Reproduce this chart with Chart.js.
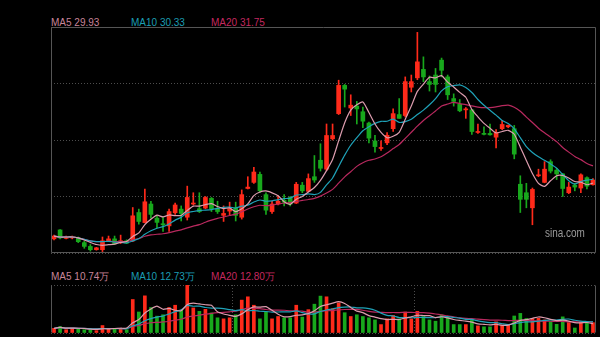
<!DOCTYPE html>
<html>
<head>
<meta charset="utf-8">
<title>日K线</title>
<script src="https://cdn.jsdelivr.net/npm/chart.js@4.4.1/dist/chart.umd.min.js"></script>
<style>
  html, body { margin: 0; padding: 0; background: #000; }
  #wrap { position: relative; width: 600px; height: 337px; overflow: hidden; font-family: "Liberation Sans", Arial, sans-serif; }
  .pane { position: absolute; }
  .ma { position: absolute; font-size: 10px; line-height: 10px; white-space: nowrap; }
  #logo { position: absolute; left: 545px; top: 227px; font-size: 12px; line-height: 12px; color: #9a9a9a; transform: scaleX(0.83); transform-origin: left top; }
</style>
</head>
<body>
<div id="wrap">
  <div class="ma" id="ma5" style="left:51px; top:18px;"></div>
  <div class="ma" id="ma10" style="left:131px; top:18px;"></div>
  <div class="ma" id="ma20" style="left:211px; top:18px;"></div>
  <div class="pane" style="left:50px; top:26px;"><canvas id="kline" width="547" height="228"></canvas></div>
  <div id="logo">sina.com</div>
  <div class="ma" id="vma5" style="left:51px; top:272px;"></div>
  <div class="ma" id="vma10" style="left:131px; top:272px;"></div>
  <div class="ma" id="vma20" style="left:211px; top:272px;"></div>
  <div class="pane" style="left:50px; top:284px;"><canvas id="volume" width="547" height="50"></canvas></div>
</div>
<script>
// daily prices
const opens = [
  24.0, 24.95, 24.05, 24.1, 24.1, 23.6, 23.2, 22.85, 22.85, 23.75,
  24.0, 23.6, 23.8, 23.78, 26.8, 25.73, 27.7, 26.2, 25.6, 25.38,
  26.77, 27.16, 26.3, 27.7, 27.2, 27.27, 28.3, 27.2, 26.5, 26.95,
  27.3, 26.3, 29.35, 30.0, 30.85, 28.7, 26.9, 27.7, 28.1, 28.4,
  27.8, 29.7, 29.05, 30.6, 32.35, 31.4, 34.63, 37.3, 40.3, 37.9,
  38.1, 37.5, 36.3, 34.4, 33.6, 34.2, 35.7, 37.2, 37.1, 40.1,
  41.1, 42.0, 40.7, 41.4, 42.98, 41.2, 38.9, 38.3, 37.7, 37.7,
  35.3, 35.2, 35.2, 34.8, 35.7, 35.9, 35.7, 29.8, 28.9, 27.3,
  30.7, 30.0, 32.2, 31.3, 30.9, 28.9, 29.7, 29.4, 30.5, 29.75
];
const highs = [
  24.4, 25.0, 24.3, 24.3, 24.2, 23.75, 23.4, 23.1, 24.2, 24.3,
  24.3, 24.4, 23.9, 27.33, 27.16, 29.3, 28.0, 26.45, 26.3, 27.16,
  27.8, 27.5, 29.6, 28.9, 28.9, 28.5, 28.4, 28.0, 27.5, 27.9,
  27.9, 29.2, 30.6, 31.6, 31.1, 28.9, 28.0, 28.6, 28.7, 28.5,
  30.0, 30.0, 30.9, 32.85, 34.1, 36.2, 36.2, 40.85, 40.4, 39.3,
  38.6, 38.0, 36.4, 35.0, 34.4, 35.3, 37.8, 38.9, 41.2, 41.4,
  45.93, 43.33, 41.3, 42.1, 43.2, 41.4, 39.4, 38.8, 37.95, 37.75,
  36.2, 35.9, 36.2, 35.6, 36.6, 36.1, 36.05, 30.7, 29.9, 29.4,
  31.4, 32.2, 32.4, 31.5, 30.95, 30.0, 29.9, 30.9, 30.6, 30.4
];
const lows = [
  23.9, 24.0, 24.0, 24.0, 23.6, 23.0, 22.7, 22.8, 22.65, 23.7,
  23.4, 23.5, 23.5, 23.7, 25.56, 25.7, 26.2, 25.2, 24.8, 24.8,
  26.6, 25.9, 26.0, 27.6, 26.8, 27.2, 26.9, 26.7, 25.85, 26.5,
  25.9, 26.1, 29.3, 29.9, 28.9, 26.6, 26.7, 27.6, 27.5, 27.5,
  27.75, 28.9, 29.0, 30.0, 31.2, 31.25, 34.5, 37.2, 38.0, 37.1,
  36.2, 35.8, 34.2, 33.2, 33.4, 34.0, 35.4, 36.8, 36.95, 39.6,
  40.9, 40.7, 39.7, 39.6, 41.2, 38.8, 38.1, 37.5, 36.8, 35.1,
  35.2, 35.05, 35.0, 33.67, 35.6, 35.8, 32.5, 26.8, 27.3, 25.5,
  30.6, 29.95, 31.0, 30.3, 28.5, 28.8, 29.1, 28.9, 29.3, 29.7
];
const closes = [
  24.3, 24.1, 24.2, 24.2, 23.7, 23.2, 22.85, 23.05, 23.8, 24.0,
  23.5, 23.8, 23.55, 26.45, 25.85, 27.94, 26.6, 25.75, 25.5, 26.9,
  27.6, 26.7, 28.4, 27.8, 26.9, 28.4, 27.2, 26.9, 26.7, 27.2,
  26.5, 28.7, 29.5, 31.1, 29.1, 27.05, 27.7, 28.0, 27.9, 27.7,
  29.8, 29.1, 30.4, 30.25, 31.5, 34.98, 34.98, 40.3, 39.9, 38.2,
  37.8, 36.5, 34.7, 33.8, 33.7, 35.0, 37.3, 36.8, 40.7, 40.7,
  42.8, 41.2, 40.4, 40.4, 41.9, 39.3, 38.6, 37.6, 37.8, 35.4,
  35.4, 35.1, 35.05, 35.3, 36.15, 36.05, 33.0, 28.2, 28.2, 29.25,
  30.8, 31.4, 31.2, 30.9, 29.35, 29.5, 29.5, 30.8, 29.6, 30.25
];
// daily volume, in 万 shares
const volumes = [
  5.4, 7.5, 3.8, 5.4, 5.4, 3.8, 3.8, 2.7, 8.6, 5.4,
  5.4, 5.4, 3.8, 38.6, 24.2, 42.8, 29.3, 19.4, 21.0, 29.3,
  32.0, 26.1, 55.3, 28.9, 25.0, 27.3, 23.1, 17.5, 16.3, 17.5,
  21.0, 37.9, 41.7, 32.0, 16.3, 24.2, 16.3, 19.0, 17.5, 17.5,
  32.0, 18.3, 26.9, 33.2, 42.5, 41.7, 28.1, 34.7, 23.4, 19.0,
  21.0, 19.0, 17.5, 15.1, 9.7, 16.3, 20.2, 16.3, 24.2, 16.3,
  25.0, 19.0, 15.1, 13.6, 21.0, 18.3, 9.7, 9.7, 9.7, 15.1,
  8.2, 7.1, 7.1, 12.9, 9.0, 9.0, 19.6, 22.6, 16.7, 16.5,
  16.9, 15.0, 13.1, 10.0, 18.6, 12.0, 5.8, 12.0, 12.0, 11.9
];
const days = closes.map((c, i) => String(i + 1));

const maPeriods = [5, 10, 20];
const maLineColors = ['#dc9cae', '#1fa2b8', '#b8295e'];
const maTextColors = ['#c98499', '#1b9db3', '#c4285f'];
const upColor = '#ff2a1a';
const downColor = '#18a81c';
const frameColor = '#555555';
const dotColor = '#4d4d4d';

// simple moving average; the first few days use what is available
function movingAverage(values, n) {
    return values.map((v, i) => {
        const part = values.slice(Math.max(0, i - n + 1), i + 1);
        return part.reduce((a, b) => a + b, 0) / part.length;
    });
}

const candleColors = closes.map((c, i) => c >= opens[i] ? upColor : downColor);

// solid frame around the plot area
const framePlugin = {
    id: 'frame',
    afterDraw(chart, args, opts) {
        const { ctx, chartArea: a } = chart;
        const l = Math.round(a.left) + 0.5, r = Math.round(a.right) - 0.5;
        const t = Math.round(a.top) + 0.5, b = Math.round(a.bottom) - 0.5;
        ctx.save();
        ctx.strokeStyle = frameColor;
        ctx.lineWidth = 1;
        ctx.beginPath();
        (opts.sides || []).forEach(side => {
            if (side === 'left') { ctx.moveTo(l, t); ctx.lineTo(l, b); }
            if (side === 'right') { ctx.moveTo(r, t); ctx.lineTo(r, b); }
            if (side === 'top') { ctx.moveTo(l, t); ctx.lineTo(r, t); }
            if (side === 'bottom') { ctx.moveTo(l, b); ctx.lineTo(r, b); }
        });
        ctx.stroke();
        ctx.restore();
    }
};

function maDatasets(values) {
    return maPeriods.map((n, k) => ({
        type: 'line',
        label: 'MA' + n,
        data: movingAverage(values, n),
        borderColor: maLineColors[k],
        borderWidth: 1.2,
        pointRadius: 0,
        tension: 0.2,
        order: 0
    }));
}

function setLabels(prefix, values, unit) {
    maPeriods.forEach((n, k) => {
        const ma = movingAverage(values, n);
        const el = document.getElementById(prefix + n);
        el.textContent = 'MA' + n + ' ' + ma[ma.length - 1].toFixed(2) + unit;
        el.style.color = maTextColors[k];
    });
}

Chart.defaults.animation = false;
Chart.defaults.plugins.legend.display = false;
Chart.defaults.plugins.tooltip.enabled = false;

// price pane: candles drawn as floating bars (wick + body) with MA lines
new Chart(document.getElementById('kline'), {
    type: 'bar',
    data: {
        labels: days,
        datasets: [
            ...maDatasets(closes),
            {
                label: 'body',
                data: opens.map((o, i) => [o, closes[i]]),
                backgroundColor: candleColors,
                barThickness: 4,
                minBarLength: 1,
                grouped: false,
                order: 1
            },
            {
                label: 'wick',
                data: lows.map((l, i) => [l, highs[i]]),
                backgroundColor: candleColors,
                barThickness: 1,
                grouped: false,
                order: 2
            }
        ]
    },
    options: {
        responsive: false,
        layout: { padding: 1 },
        scales: {
            x: { display: false },
            y: {
                min: 22.5,
                max: 46.5,
                ticks: { display: false, stepSize: 6 },
                grid: { color: dotColor, drawTicks: false, borderDash: [1, 2] },
                border: { display: false, dash: [1, 2] }
            }
        },
        plugins: { frame: { sides: ['left', 'right', 'top', 'bottom'] } }
    },
    plugins: [framePlugin]
});

// volume pane
new Chart(document.getElementById('volume'), {
    type: 'bar',
    data: {
        labels: days,
        datasets: [
            ...maDatasets(volumes),
            {
                label: 'vol',
                data: volumes,
                backgroundColor: candleColors,
                barThickness: 3,
                grouped: false,
                order: 1
            }
        ]
    },
    options: {
        responsive: false,
        layout: { padding: 1 },
        scales: {
            x: {
                ticks: { display: false, autoSkip: false },
                grid: {
                    drawTicks: false,
                    color: ctx => (ctx.index === 30 || ctx.index === 60) ? dotColor : 'rgba(0,0,0,0)',
                    borderDash: [1, 2]
                },
                border: { display: false, dash: [1, 2] }
            },
            y: {
                min: 0,
                max: 55.3,
                ticks: { display: false, stepSize: 55.3 },
                grid: { color: dotColor, drawTicks: false, borderDash: [1, 2] },
                border: { display: false, dash: [1, 2] }
            }
        },
        plugins: { frame: { sides: ['left', 'right'] } }
    },
    plugins: [framePlugin]
});

setLabels('ma', closes, '');
setLabels('vma', volumes, '万');
</script>
</body>
</html>
